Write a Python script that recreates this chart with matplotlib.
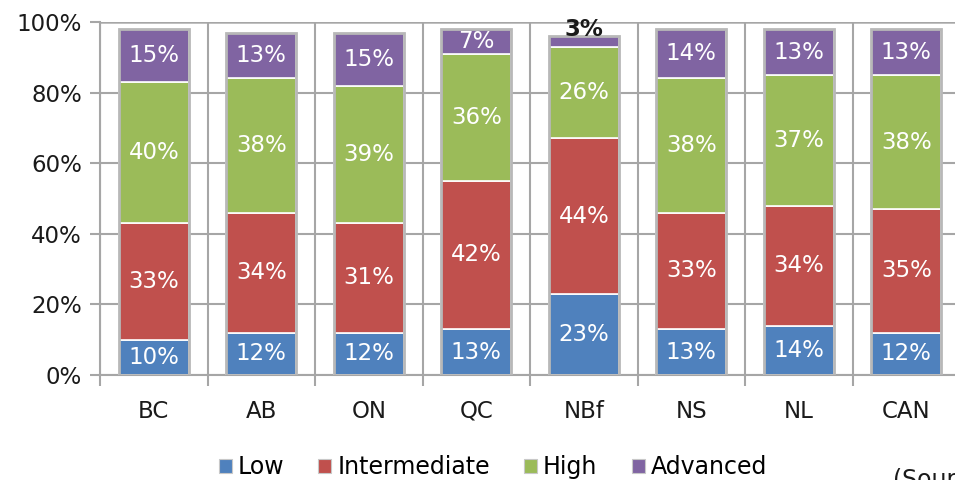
import matplotlib
matplotlib.use("Agg")
import matplotlib.pyplot as plt
from matplotlib.patches import Rectangle, Patch
import numpy as np

plt.rcParams["font.family"] = ["DejaVu Sans"]

# Literacy proficiency shares by province
categories = ["BC", "AB", "ON", "QC", "NBf", "NS", "NL", "CAN"]
levels = ["Low", "Intermediate", "High", "Advanced"]
low = [10, 12, 12, 13, 23, 13, 14, 12]
intermediate = [33, 34, 31, 42, 44, 33, 34, 35]
high = [40, 38, 39, 36, 26, 38, 37, 38]
advanced = [15, 13, 15, 7, 3, 14, 13, 13]
yticks = [0, 20, 40, 60, 80, 100]
ytick_labels = ["0%", "20%", "40%", "60%", "80%", "100%"]

series = [low, intermediate, high, advanced]
colors = ["#4F81BD", "#C0504D", "#9BBB59", "#8064A2"]
grid_c = "#A6A6A6"
txt_c = "#1a1a1a"
fs = 16.5

fig = plt.figure(figsize=(9.55, 4.8), dpi=100)
ax = fig.add_axes([100 / 955, 1 - 375 / 480, 860 / 955, (375 - 22) / 480])

x = np.arange(len(categories))
width = 0.65
bottom = np.zeros(len(categories))
for vals, col in zip(series, colors):
    vals = np.array(vals, dtype=float)
    ax.bar(x, vals, width, bottom=bottom, color=col, edgecolor="white",
           linewidth=1.2, zorder=3)
    for xi, b, v in zip(x, bottom, vals):
        if v >= 5:
            ax.text(xi, b + v / 2, f"{int(v)}%", ha="center", va="center",
                    color="white", fontsize=fs, zorder=5)
        else:
            ax.text(xi, b + v + 1.8, f"{int(v)}%", ha="center", va="center",
                    color=txt_c, fontsize=fs, fontweight="bold", zorder=5)
    bottom += vals

# light grey frame around each stacked column
for xi, tot in zip(x, bottom):
    ax.add_patch(Rectangle((xi - width / 2, 0), width, tot, fill=False,
                           edgecolor="#B8B8B8", linewidth=2.0, zorder=4))

ax.set_xlim(-0.5, len(categories) - 0.5)
ax.set_ylim(0, 100)

# grid: horizontal at y ticks, vertical between categories
ax.set_yticks(yticks)
ax.set_yticklabels(ytick_labels, fontsize=fs, color=txt_c)
ax.set_xticks(np.arange(-0.5, len(categories), 1.0))
ax.set_xticklabels([])
ax.set_xticks(x, minor=True)
ax.set_xticklabels(categories, minor=True, fontsize=fs, color=txt_c)
ax.tick_params(axis="x", which="minor", length=0, pad=18)
ax.tick_params(axis="x", which="major", length=8, width=1.5, color=grid_c)
ax.tick_params(axis="y", length=7, width=1.5, color=grid_c, pad=6)
ax.grid(True, which="major", color=grid_c, linewidth=1.5)
ax.axhline(100, color="#B4B4B4", linewidth=2.6, zorder=0.5)
ax.set_axisbelow(True)
for s in ["top", "right"]:
    ax.spines[s].set_visible(False)
for s in ["left", "bottom"]:
    ax.spines[s].set_color(grid_c)
    ax.spines[s].set_linewidth(1.5)

handles = [Patch(facecolor=c, edgecolor="#C8C8C8", linewidth=0.8) for c in colors]
fig.legend(handles, levels, loc="center", bbox_to_anchor=(0.516, 0.027),
           ncol=4, frameon=False, fontsize=17, handlelength=0.55,
           handleheight=0.55, handletextpad=0.25, columnspacing=1.45)

fig.text(893 / 955, 1 - 468 / 480, "(Source:", fontsize=17, va="top",
         ha="left", color=txt_c)

fig.savefig("out.png", dpi=100)
